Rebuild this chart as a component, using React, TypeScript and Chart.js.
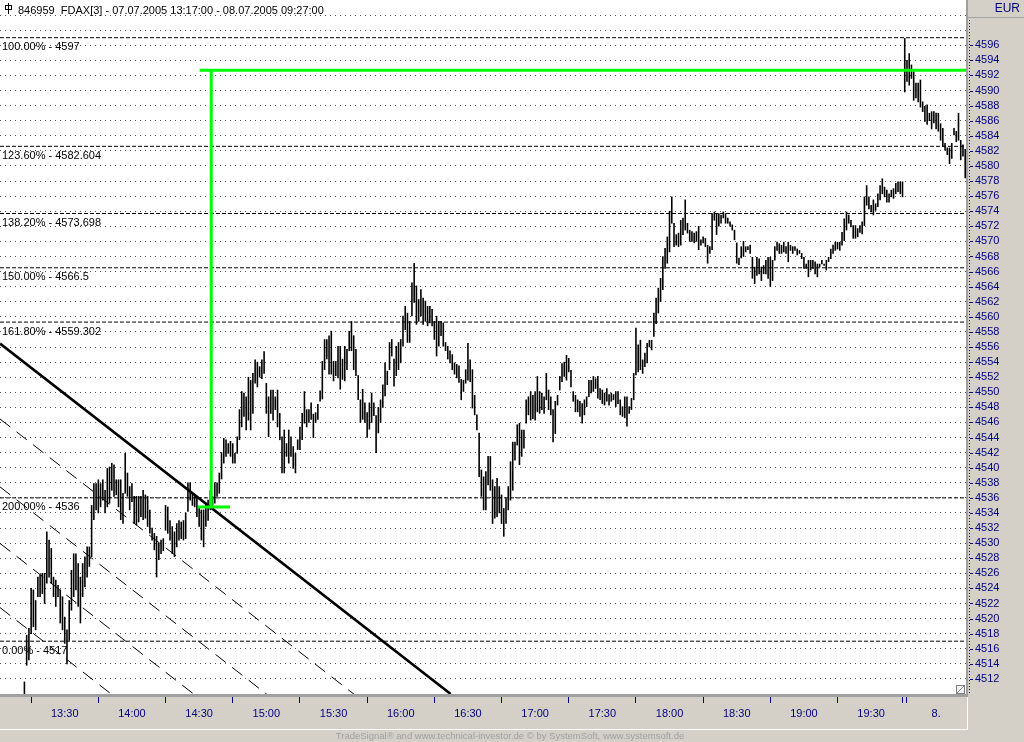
import React, { useEffect, useRef } from 'react';
import { Chart, registerables } from 'chart.js';

Chart.register(...registerables);

// 1-minute FDAX bars: index 0 = 07.07.2005 13:17, index 402 = 19:59, index 403..430 = 08.07.2005 09:00..09:27
const lows: (number | null)[] = [
  null, null, null, null, null, null, null, null, null, null,
  4509.4, 4513.8, 4514.5, 4518.0, 4518.9, 4518.5, 4522.9, 4522.9, 4523.3, 4522.0,
  4524.7, 4525.5, 4524.7, 4522.9, 4521.6, 4522.9, 4519.4, 4518.5, 4516.7, 4514.0,
  4517.1, 4521.1, 4522.9, 4523.8, 4521.6, 4519.4, 4522.9, 4524.2, 4525.5, 4526.9,
  4528.2, 4533.1, 4534.4, 4534.0, 4534.8, 4535.7, 4534.0, 4534.8, 4535.3, 4537.0,
  4536.2, 4536.4, 4534.8, 4533.1, 4532.6, 4536.6, 4536.2, 4534.4, 4535.5, 4532.6,
  4532.4, 4532.8, 4533.5, 4533.1, 4533.3, 4532.2, 4531.3, 4530.4, 4529.1, 4525.5,
  4527.8, 4528.6, 4529.0, 4531.7, 4531.3, 4530.4, 4528.6, 4528.2, 4529.5, 4530.4,
  4530.6, 4530.4, 4530.6, 4534.2, 4535.7, 4535.0, 4534.8, 4533.5, 4532.2, 4530.4,
  4529.5, 4532.2, 4533.0, 4534.4, 4534.8, 4535.3, 4536.2, 4536.6, 4538.5, 4540.6,
  4541.5, 4541.9, 4541.5, 4540.6, 4540.6, 4541.9, 4543.7, 4545.4, 4546.8, 4545.0,
  4546.3, 4545.0, 4547.2, 4551.2, 4550.7, 4552.0, 4551.8, 4552.5, 4547.2, 4544.1,
  4547.2, 4546.3, 4547.7, 4545.4, 4543.7, 4539.3, 4539.3, 4541.5, 4540.6, 4541.5,
  4539.9, 4539.3, 4542.4, 4542.4, 4543.7, 4545.9, 4545.4, 4546.0, 4546.4, 4544.0,
  4546.0, 4546.4, 4548.8, 4549.1, 4553.0, 4554.4, 4552.4, 4552.4, 4551.5, 4552.2,
  4551.9, 4550.4, 4551.7, 4551.5, 4553.0, 4555.5, 4555.5, 4553.0, 4552.2, 4549.0,
  4546.0, 4546.4, 4546.0, 4544.0, 4545.1, 4546.0, 4546.9, 4542.0, 4544.6, 4546.0,
  4548.0, 4549.5, 4551.0, 4553.0, 4554.8, 4550.8, 4552.2, 4553.0, 4553.9, 4556.1,
  4558.3, 4556.6, 4556.6, 4560.1, 4561.9, 4559.0, 4559.4, 4560.1, 4559.0, 4559.4,
  4558.8, 4559.2, 4558.8, 4557.0, 4554.8, 4556.1, 4557.5, 4556.1, 4555.5, 4554.4,
  4553.9, 4553.0, 4552.4, 4551.9, 4551.3, 4549.0, 4550.1, 4551.2, 4551.6, 4551.4,
  4547.9, 4547.0, 4545.0, 4538.8, 4536.2, 4534.4, 4534.4, 4537.7, 4537.0, 4532.6,
  4533.3, 4533.5, 4534.0, 4532.6, 4530.9, 4532.6, 4534.4, 4535.7, 4537.0, 4541.0,
  4543.0, 4540.4, 4541.5, 4542.6, 4545.9, 4547.0, 4546.3, 4546.5, 4546.3, 4547.4,
  4547.2, 4547.7, 4547.2, 4549.0, 4547.7, 4547.0, 4543.4, 4544.5, 4548.3, 4550.3,
  4551.4, 4552.1, 4551.6, 4552.7, 4550.7, 4548.8, 4547.4, 4547.4, 4546.8, 4545.9,
  4547.0, 4548.1, 4549.4, 4549.9, 4550.1, 4550.5, 4549.2, 4549.0, 4548.5, 4548.3,
  4548.8, 4548.3, 4548.8, 4549.0, 4548.1, 4548.5, 4547.0, 4546.8, 4546.6, 4545.5,
  4547.2, 4547.7, 4549.0, 4552.3, 4552.7, 4553.0, 4552.5, 4553.4, 4553.9, 4556.0,
  4555.6, 4557.4, 4559.1, 4560.5, 4562.0, 4563.6, 4566.4, 4567.1, 4568.6, 4572.4,
  4569.3, 4569.5, 4569.3, 4569.5, 4570.9, 4571.5, 4571.1, 4570.0, 4570.0, 4569.8,
  4570.0, 4568.9, 4569.5, 4569.8, 4569.3, 4567.1, 4568.4, 4568.9, 4572.8, 4570.9,
  4572.0, 4572.4, 4573.1, 4572.4, 4572.4, 4572.0, 4571.5, 4570.2, 4567.1, 4566.9,
  4567.8, 4568.0, 4568.6, 4568.9, 4568.4, 4565.1, 4564.4, 4565.5, 4565.7, 4564.8,
  4565.7, 4565.7, 4565.1, 4564.0, 4564.8, 4567.5, 4568.8, 4568.4, 4568.4, 4568.6,
  4568.4, 4567.3, 4568.8, 4568.4, 4568.8, 4568.2, 4568.4, 4567.7, 4566.4, 4566.4,
  4565.3, 4566.2, 4566.4, 4565.7, 4565.3, 4566.6, 4567.0, 4566.8, 4566.2, 4567.3,
  4567.7, 4568.4, 4568.8, 4569.0, 4568.8, 4569.5, 4570.1, 4571.5, 4572.4, 4571.9,
  4570.4, 4570.4, 4570.6, 4571.2, 4571.0, 4572.1, 4574.8, 4574.3, 4573.9, 4573.5,
  4574.1, 4574.6, 4575.5, 4576.3, 4575.9, 4575.2, 4575.2, 4575.9, 4575.7, 4576.3,
  4576.6, 4576.3, 4575.9, 4589.8, 4591.2, 4590.7, 4591.6, 4588.7, 4589.0, 4588.5,
  4587.8, 4587.2, 4585.9, 4585.5, 4586.0, 4584.9, 4585.7, 4584.9, 4584.6, 4583.4,
  4582.6, 4582.1, 4581.5, 4580.3, 4581.0, 4584.1, 4583.2, 4583.4, 4580.8, 4581.3,
  4578.4,
];

const highs: (number | null)[] = [
  null, null, null, null, null, null, null, null, null, null,
  4511.6, 4517.8, 4518.7, 4524.0, 4523.8, 4522.4, 4525.5, 4525.8, 4526.0, 4526.0,
  4531.5, 4530.4, 4529.3, 4525.5, 4525.1, 4524.4, 4523.8, 4522.9, 4520.2, 4518.5,
  4522.4, 4526.4, 4528.6, 4528.6, 4527.3, 4525.5, 4527.3, 4528.2, 4529.5, 4529.5,
  4535.0, 4537.9, 4537.9, 4538.4, 4537.9, 4538.4, 4537.0, 4539.9, 4540.1, 4540.6,
  4540.4, 4538.4, 4538.4, 4538.4, 4536.6, 4541.9, 4539.3, 4537.5, 4537.9, 4536.2,
  4536.2, 4536.2, 4536.2, 4537.0, 4536.4, 4536.2, 4534.4, 4532.0, 4531.3, 4530.9,
  4530.0, 4530.4, 4530.6, 4535.0, 4534.8, 4533.0, 4532.2, 4531.5, 4532.6, 4533.0,
  4532.8, 4533.0, 4534.0, 4538.0, 4538.0, 4536.6, 4536.2, 4536.0, 4534.8, 4534.4,
  4534.4, 4535.3, 4535.7, 4537.0, 4536.2, 4538.0, 4538.0, 4539.3, 4542.0, 4543.9,
  4543.7, 4543.2, 4543.5, 4543.2, 4541.9, 4544.1, 4547.7, 4550.1, 4549.9, 4549.4,
  4552.0, 4551.6, 4552.5, 4554.3, 4554.0, 4553.4, 4554.3, 4555.4, 4551.2, 4549.4,
  4550.3, 4550.3, 4549.4, 4550.3, 4547.2, 4544.1, 4545.0, 4543.2, 4545.0, 4544.1,
  4542.8, 4541.9, 4543.7, 4545.4, 4547.2, 4550.1, 4547.7, 4547.7, 4548.6, 4547.1,
  4547.3, 4548.4, 4550.2, 4554.1, 4557.0, 4557.0, 4557.5, 4558.1, 4554.1, 4554.1,
  4556.1, 4556.1, 4554.4, 4556.1, 4555.7, 4558.1, 4559.4, 4557.5, 4555.7, 4552.2,
  4549.0, 4550.4, 4548.6, 4547.3, 4548.6, 4549.9, 4548.6, 4546.9, 4548.0, 4549.0,
  4551.0, 4553.9, 4552.8, 4556.6, 4557.0, 4554.4, 4556.1, 4556.6, 4557.0, 4560.1,
  4561.4, 4560.5, 4559.4, 4564.5, 4567.1, 4564.1, 4562.3, 4563.6, 4562.5, 4562.1,
  4561.4, 4561.4, 4561.0, 4559.4, 4560.1, 4559.4, 4559.4, 4559.2, 4556.6, 4556.1,
  4555.5, 4555.0, 4553.9, 4553.7, 4553.5, 4551.7, 4551.6, 4553.0, 4556.5, 4554.3,
  4553.0, 4549.6, 4547.0, 4544.6, 4539.7, 4538.8, 4539.5, 4541.5, 4541.5, 4538.4,
  4537.5, 4538.6, 4537.5, 4536.4, 4534.6, 4535.9, 4537.5, 4540.8, 4543.4, 4543.4,
  4545.7, 4545.9, 4545.0, 4545.0, 4549.0, 4549.4, 4550.1, 4549.6, 4550.1, 4552.1,
  4550.1, 4549.9, 4549.4, 4552.5, 4550.3, 4549.4, 4547.7, 4548.8, 4549.6, 4552.1,
  4553.8, 4554.0, 4554.9, 4554.5, 4552.9, 4550.1, 4549.6, 4549.0, 4548.8, 4548.5,
  4549.0, 4549.4, 4551.6, 4551.6, 4552.1, 4551.8, 4552.1, 4550.5, 4550.3, 4549.9,
  4550.5, 4549.7, 4549.9, 4549.7, 4550.1, 4550.1, 4549.0, 4548.1, 4549.4, 4549.4,
  4548.1, 4549.2, 4552.5, 4558.5, 4556.3, 4556.9, 4554.3, 4555.2, 4556.5, 4556.9,
  4556.9, 4560.5, 4562.5, 4563.8, 4565.1, 4568.0, 4569.1, 4570.6, 4574.0, 4575.9,
  4572.4, 4570.9, 4571.1, 4572.8, 4573.1, 4575.5, 4572.4, 4571.5, 4571.3, 4571.1,
  4571.3, 4572.0, 4570.2, 4570.6, 4570.4, 4569.5, 4569.3, 4573.7, 4573.9, 4573.7,
  4573.7, 4573.5, 4573.9, 4573.7, 4573.1, 4572.6, 4572.2, 4571.5, 4569.8, 4567.8,
  4569.3, 4570.0, 4569.3, 4569.3, 4569.5, 4567.9, 4566.6, 4567.9, 4567.7, 4566.6,
  4566.8, 4567.5, 4567.9, 4567.9, 4567.5, 4569.3, 4569.9, 4569.7, 4569.5, 4569.9,
  4569.3, 4569.9, 4569.5, 4569.3, 4569.3, 4569.0, 4568.8, 4568.4, 4567.9, 4567.0,
  4567.5, 4567.5, 4567.5, 4567.3, 4567.0, 4567.0, 4567.5, 4567.0, 4567.5, 4567.9,
  4569.0, 4569.5, 4569.9, 4569.9, 4569.9, 4571.2, 4573.0, 4573.9, 4573.5, 4572.8,
  4572.1, 4572.1, 4571.7, 4572.1, 4572.6, 4575.9, 4577.4, 4575.9, 4574.8, 4575.5,
  4575.0, 4576.3, 4577.4, 4578.3, 4577.2, 4576.8, 4576.3, 4576.8, 4577.0, 4577.7,
  4577.9, 4577.9, 4577.9, 4596.9, 4594.0, 4594.9, 4593.4, 4592.5, 4591.0, 4591.0,
  4591.4, 4588.5, 4587.9, 4588.1, 4587.0, 4587.2, 4587.2, 4587.0, 4587.0, 4585.6,
  4585.0, 4583.0, 4582.4, 4582.4, 4583.0, 4585.0, 4584.6, 4587.0, 4583.4, 4582.8,
  4582.2,
];

const fibLevels = [4597, 4582.604, 4573.698, 4566.5, 4559.302, 4536, 4517];
const fibTexts = [
  '100.00% - 4597',
  '123.60% - 4582.604',
  '138.20% - 4573.698',
  '150.00% - 4566.5',
  '161.80% - 4559.302',
  '200.00% - 4536',
  '0.00% - 4517',
];

// down trendline (bar index, price) and parallel channel shifts (price)
const trendX = [-0.9, 200.3];
const trendY = [4556.46, 4510.0];
const channelShifts = [-10, -19, -26.5, -35];

// green projection (bar index / price)
const projX = 93.4;
const projLow = 4534.8;
const projHigh = 4592.7;
const projTopFrom = 88.2;
const projBaseFrom = 87.4;
const projBaseTo = 101.8;

const xMarkIndex = [13, 43, 73, 103, 133, 163, 193, 223, 253, 283, 313, 343, 373, 402.2, 403.6];
const xLabelIndex = [28, 58, 88, 118, 148, 178, 208, 238, 268, 298, 328, 358, 388, 417];
const xLabelText = ['13:30', '14:00', '14:30', '15:00', '15:30', '16:00', '16:30', '17:00', '17:30', '18:00', '18:30', '19:00', '19:30', '8.'];

const Y_MIN = 4510;
const Y_MAX = 4602;
const Y_LABEL_MIN = 4512;
const Y_LABEL_MAX = 4596;
const X_MIN = -0.9;
const X_MAX = 430.35;

const TITLE = '846959  FDAX[3] - 07.07.2005 13:17:00 - 08.07.2005 09:27:00';
const FOOTER = 'TradeSignal\u00AE and www.technical-investor.de \u00A9 by SystemSoft, www.systemsoft.de';
const CURRENCY = 'EUR';

const FONT = '"Liberation Sans", Arial, sans-serif';
const NAVY = '#000080';
const PANEL = '#d4d0c8';

export default function App() {
  const ref = useRef<HTMLCanvasElement | null>(null);

  useEffect(() => {
    const canvas = ref.current;
    if (!canvas) return;

    const bars: any[] = [];
    for (let i = 0; i < lows.length; i++) {
      if (lows[i] != null && highs[i] != null) bars.push({ x: i, y: [lows[i], highs[i]] });
    }

    const lineDs = (data: any[], color: string, width: number, dash: number[], order: number) => ({
      type: 'line',
      data,
      borderColor: color,
      borderWidth: width,
      borderDash: dash,
      pointRadius: 0,
      pointHoverRadius: 0,
      fill: false,
      tension: 0,
      clip: 0,
      order,
    });

    const datasets: any[] = [
      ...fibLevels.map((l) => lineDs([{ x: X_MIN, y: l }, { x: X_MAX, y: l }], '#000000', 1, [4, 2], 10)),
      ...channelShifts.map((s) => lineDs(trendX.map((x, k) => ({ x, y: trendY[k] + s })), '#000000', 1, [13, 8], 9)),
      {
        type: 'bar',
        data: bars,
        backgroundColor: '#000000',
        borderWidth: 0,
        barThickness: 1,
        inflateAmount: 0.3,
        clip: 0,
        order: 5,
      },
      lineDs(trendX.map((x, k) => ({ x, y: trendY[k] })), '#000000', 2.6, [], 3),
      lineDs([{ x: projX, y: projLow }, { x: projX, y: projHigh }], '#00ff00', 3, [], 1),
      lineDs([{ x: projTopFrom, y: projHigh }, { x: X_MAX, y: projHigh }], '#00ff00', 3, [], 1),
      lineDs([{ x: projBaseFrom, y: projLow }, { x: projBaseTo, y: projLow }], '#00ff00', 3, [], 1),
    ];

    const xTickValues = [...xMarkIndex, ...xLabelIndex].sort((a, b) => a - b);
    const yTickValues: number[] = [];
    for (let v = Y_MIN; v <= Y_MAX; v += 2) yTickValues.push(v);

    const frame = {
      id: 'frame',
      beforeDraw(chart: any) {
        const { ctx, chartArea: a, width, height } = chart;
        ctx.save();
        ctx.fillStyle = PANEL;
        ctx.fillRect(0, 0, width, height);
        ctx.fillStyle = '#ffffff';
        ctx.fillRect(a.left, a.top, a.right - a.left, a.bottom - a.top);
        ctx.restore();
      },
      beforeDatasetsDraw(chart: any) {
        const { ctx, chartArea: a } = chart;
        const y = chart.scales.y;
        ctx.save();
        ctx.font = '11px ' + FONT;
        ctx.fillStyle = '#000000';
        ctx.textAlign = 'left';
        ctx.textBaseline = 'alphabetic';
        fibLevels.forEach((lvl, k) => {
          ctx.fillText(fibTexts[k], a.left + 2, y.getPixelForValue(lvl) + 12.5);
        });
        ctx.fillText(TITLE, a.left + 18, a.top + 14);
        // small chart icon
        ctx.strokeStyle = '#000000';
        ctx.lineWidth = 1;
        ctx.strokeRect(a.left + 5.5, a.top + 5.5, 6, 4);
        ctx.beginPath();
        ctx.moveTo(a.left + 8.5, a.top + 3);
        ctx.lineTo(a.left + 8.5, a.top + 14);
        ctx.stroke();
        ctx.restore();
      },
      afterDraw(chart: any) {
        const { ctx, chartArea: a, width } = chart;
        const y = chart.scales.y;
        ctx.save();
        // bevels around the plot
        ctx.fillStyle = '#a0a0a0';
        ctx.fillRect(a.left, a.bottom, a.right - a.left + 2, 3);
        ctx.fillRect(a.right, a.top, 2, a.bottom - a.top + 3);
        ctx.fillStyle = '#ffffff';
        ctx.fillRect(a.left, a.bottom + 35, a.right - a.left + 2, 1);
        ctx.fillRect(a.right + 1, a.bottom + 3, 1, 33);
        // EUR header
        ctx.fillStyle = '#a0a0a0';
        ctx.fillRect(a.right + 2, 17, width - a.right - 2, 1);
        ctx.fillStyle = NAVY;
        ctx.font = '12px ' + FONT;
        ctx.textAlign = 'right';
        ctx.textBaseline = 'middle';
        ctx.fillText(CURRENCY, width - 4, 9);
        // dotted axis line with tick marks
        for (let py = 20; py < a.bottom; py += 3) ctx.fillRect(a.right + 3, py, 1, 1);
        for (let v = Y_LABEL_MIN; v <= Y_LABEL_MAX; v += 2) {
          ctx.fillRect(a.right + 4, Math.round(y.getPixelForValue(v)), 3, 1);
        }
        // resize glyph in plot corner
        ctx.strokeStyle = '#808080';
        ctx.lineWidth = 1;
        ctx.fillStyle = '#f0f0f0';
        ctx.fillRect(a.right - 9, a.bottom - 8, 7, 7);
        ctx.strokeRect(a.right - 9.5, a.bottom - 8.5, 8, 8);
        ctx.beginPath();
        ctx.moveTo(a.right - 9, a.bottom - 1);
        ctx.lineTo(a.right - 2, a.bottom - 8);
        ctx.stroke();
        // footer
        ctx.fillStyle = '#a0a0a0';
        ctx.font = '9.5px ' + FONT;
        ctx.textAlign = 'center';
        ctx.textBaseline = 'middle';
        ctx.fillText(FOOTER, 510, 736);
        ctx.restore();
      },
    };

    const chart = new Chart(canvas, {
      type: 'bar',
      data: { datasets },
      options: {
        animation: false,
        responsive: false,
        maintainAspectRatio: false,
        devicePixelRatio: 1,
        events: [],
        layout: { padding: { left: 0, top: 0, right: 0, bottom: 13 } },
        plugins: { legend: { display: false }, tooltip: { enabled: false }, title: { display: false } },
        scales: {
          x: {
            type: 'linear',
            min: X_MIN,
            max: X_MAX,
            offset: false,
            afterBuildTicks: (s: any) => {
              s.ticks = xTickValues.map((v) => ({ value: v }));
            },
            afterFit: (s: any) => {
              s.height = 35;
              s.paddingLeft = 0;
              s.paddingRight = 0;
              s.paddingTop = 0;
              s.paddingBottom = 0;
            },
            grid: {
              display: true,
              offset: false,
              drawOnChartArea: false,
              drawTicks: true,
              tickLength: 9,
              tickWidth: 1,
              tickColor: (c: any) => (c.tick && c.tick.label === '' ? NAVY : 'rgba(0,0,0,0)'),
            },
            border: { display: false },
            ticks: {
              autoSkip: false,
              maxRotation: 0,
              minRotation: 0,
              padding: 4,
              color: NAVY,
              font: { family: FONT, size: 11 },
              callback: (v: any) => {
                const k = xLabelIndex.indexOf(Number(v));
                return k >= 0 ? xLabelText[k] : '';
              },
            },
          },
          y: {
            type: 'linear',
            position: 'right',
            min: Y_MIN,
            max: Y_MAX,
            beginAtZero: false,
            afterBuildTicks: (s: any) => {
              s.ticks = yTickValues.map((v) => ({ value: v }));
            },
            afterFit: (s: any) => {
              s.width = 58;
              s.paddingLeft = 0;
              s.paddingRight = 0;
              s.paddingTop = 0;
              s.paddingBottom = 0;
            },
            grid: {
              display: true,
              drawOnChartArea: true,
              drawTicks: false,
              color: '#505050',
              lineWidth: 1,
            },
            border: { display: false, dash: [1, 4] },
            ticks: {
              autoSkip: false,
              padding: 9,
              color: NAVY,
              font: { family: FONT, size: 11 },
              callback: (v: any) => {
                const n = Number(v);
                if (n <= Y_MIN || n >= Y_MAX) return null;
                if (n < Y_LABEL_MIN || n > Y_LABEL_MAX) return '';
                return String(n);
              },
            },
          },
        },
      } as any,
      plugins: [frame],
    });

    return () => chart.destroy();
  }, []);

  return (
    <div style={{ position: 'fixed', left: 0, top: 0, width: 1024, height: 742, background: PANEL }}>
      <canvas ref={ref} width={1024} height={742} style={{ width: 1024, height: 742, display: 'block' }} />
    </div>
  );
}
